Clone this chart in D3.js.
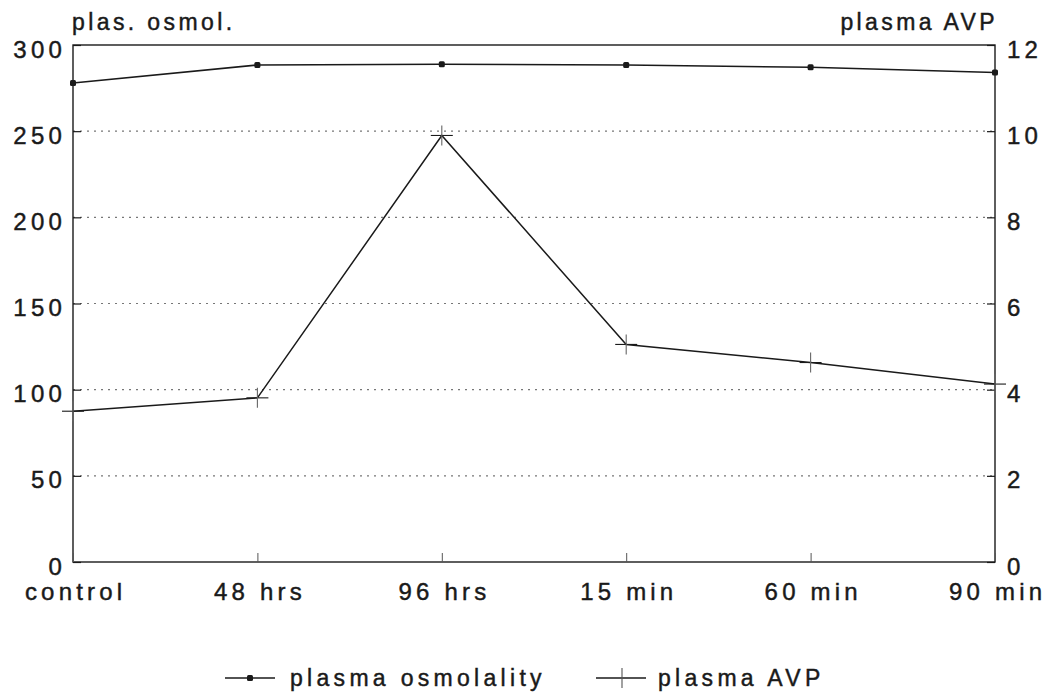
<!DOCTYPE html>
<html>
<head>
<meta charset="utf-8">
<script src="https://cdn.jsdelivr.net/npm/d3@7"></script>
<style>
  html, body { margin: 0; padding: 0; background: #ffffff; }
  svg text { font-family: "Liberation Sans", Arial, Helvetica, sans-serif; fill: #1a1a1a; stroke: #1a1a1a; stroke-width: 0.45px; }
</style>
</head>
<body>
<svg id="chart" width="1049" height="697"></svg>
<script>
// Time points of the study
const categories = ["control", "48 hrs", "96 hrs", "15 min", "60 min", "90 min"];
// Plasma osmolality (left axis)
const osmolality = [278, 288.4, 288.8, 288.4, 287.1, 284];
// Plasma AVP (right axis)
const avp = [3.5, 3.81, 9.9, 5.05, 4.63, 4.13];
// Axis ticks
const leftTicks = [0, 50, 100, 150, 200, 250, 300];
const rightTicks = [0, 2, 4, 6, 8, 10, 12];

const svg = d3.select("#chart");
const W = 1049, H = 697;
const margin = { left: 73, right: W - 995, top: 45, bottom: H - 562 };
const x0 = margin.left, x1 = W - margin.right, y0 = H - margin.bottom, y1 = margin.top;

const x = d3.scalePoint().domain(categories).range([x0, x1]).padding(0);
const yL = d3.scaleLinear().domain([0, 300]).range([y0, y1]);
const yR = d3.scaleLinear().domain([0, 12]).range([y0, y1]);

const ink = "#1a1a1a";
const fontSize = 24, spacing = 4.2;

// Dotted gridlines
svg.append("g")
  .selectAll("line")
  .data(leftTicks.filter(d => d > 0 && d < 300))
  .join("line")
  .attr("x1", x0).attr("x2", x1)
  .attr("y1", d => yL(d)).attr("y2", d => yL(d))
  .attr("stroke", "#777")
  .attr("stroke-width", 1.2)
  .attr("stroke-dasharray", "2,5");

// Frame
svg.append("rect")
  .attr("x", x0).attr("y", y1)
  .attr("width", x1 - x0).attr("height", y0 - y1)
  .attr("fill", "none").attr("stroke", ink).attr("stroke-width", 1.4);

// Left axis: inward ticks, labels to the left
const axL = svg.append("g").attr("transform", `translate(${x0},0)`)
  .call(d3.axisLeft(yL).tickValues(leftTicks).tickSize(-8).tickPadding(10).tickFormat(d3.format("d")));
axL.select(".domain").remove();
axL.selectAll("line").attr("stroke", ink).attr("stroke-width", 1.2);
axL.selectAll("text")
  .attr("font-size", fontSize).attr("letter-spacing", spacing + "px")
  .attr("fill", ink).attr("dy", "0.5em").attr("x", -7);

// Right axis
const axR = svg.append("g").attr("transform", `translate(${x1},0)`)
  .call(d3.axisRight(yR).tickValues(rightTicks).tickSize(-8).tickPadding(12).tickFormat(d3.format("d")));
axR.select(".domain").remove();
axR.selectAll("line").attr("stroke", ink).attr("stroke-width", 1.2);
axR.selectAll("text")
  .attr("font-size", fontSize).attr("letter-spacing", spacing + "px")
  .attr("fill", ink).attr("dy", "0.5em").attr("x", 12);

// Bottom axis: inward ticks, category labels
const axB = svg.append("g").attr("transform", `translate(0,${y0})`)
  .call(d3.axisBottom(x).tickSize(-9).tickPadding(0));
axB.select(".domain").remove();
axB.selectAll("line").attr("stroke", "#555").attr("stroke-width", 1);
axB.selectAll("text")
  .attr("font-size", fontSize).attr("letter-spacing", spacing + "px")
  .attr("fill", ink).attr("y", 38).attr("dy", 0).attr("dx", spacing / 2);

// Axis titles
svg.append("text").attr("x", x0 - 1).attr("y", 30)
  .attr("font-size", 23).attr("letter-spacing", "3.4px").text("plas. osmol.");
svg.append("text").attr("x", x1 + 3).attr("y", 30).attr("text-anchor", "end")
  .attr("font-size", 23).attr("letter-spacing", "3.4px").text("plasma AVP");

// Osmolality line with dot markers
const lineL = d3.line().x((d, i) => x(categories[i])).y(d => yL(d));
svg.append("path").datum(osmolality)
  .attr("d", lineL).attr("fill", "none").attr("stroke", ink).attr("stroke-width", 1.5);
svg.append("g").selectAll("rect")
  .data(osmolality)
  .join("rect")
  .attr("x", (d, i) => x(categories[i]) - 3)
  .attr("y", d => yL(d) - 3)
  .attr("width", 6).attr("height", 6).attr("rx", 1.5)
  .attr("fill", ink);

// AVP line with cross markers
const lineR = d3.line().x((d, i) => x(categories[i])).y(d => yR(d));
svg.append("path").datum(avp)
  .attr("d", lineR).attr("fill", "none").attr("stroke", ink).attr("stroke-width", 1.5);
const cross = svg.append("g").selectAll("g")
  .data(avp)
  .join("g")
  .attr("transform", (d, i) => `translate(${x(categories[i])},${yR(d)})`);
cross.append("line").attr("x1", -11).attr("x2", 11).attr("y1", 0).attr("y2", 0)
  .attr("stroke", ink).attr("stroke-width", 1.1);
cross.append("line").attr("x1", 0).attr("x2", 0).attr("y1", -10).attr("y2", 10)
  .attr("stroke", "#666").attr("stroke-width", 1.1);

// Legend
const legendY = 678;
const leg = svg.append("g");
leg.append("line").attr("x1", 225).attr("x2", 275).attr("y1", legendY).attr("y2", legendY)
  .attr("stroke", ink).attr("stroke-width", 1.4);
leg.append("rect").attr("x", 247).attr("y", legendY - 3).attr("width", 6).attr("height", 6)
  .attr("rx", 1.5).attr("fill", ink);
leg.append("text").attr("x", 290).attr("y", legendY + 8)
  .attr("font-size", 23).attr("letter-spacing", "4.3px").text("plasma osmolality");
leg.append("line").attr("x1", 596).attr("x2", 646).attr("y1", legendY).attr("y2", legendY)
  .attr("stroke", ink).attr("stroke-width", 1.4);
leg.append("line").attr("x1", 622).attr("x2", 622).attr("y1", legendY - 10).attr("y2", legendY + 10)
  .attr("stroke", "#555").attr("stroke-width", 1.1);
leg.append("text").attr("x", 658).attr("y", legendY + 8)
  .attr("font-size", 23).attr("letter-spacing", "4.3px").text("plasma AVP");
</script>
</body>
</html>
